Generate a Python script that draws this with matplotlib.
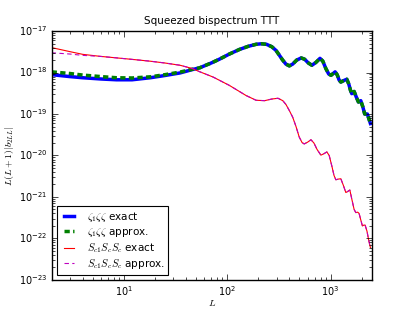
import matplotlib
matplotlib.use('Agg')
import matplotlib.pyplot as plt
import numpy as np

# zeta_1 zeta zeta, exact
L_zeta = [2.0, 3.0, 4.0, 6.0, 8.5, 12, 18, 25, 35, 46, 54, 70, 84, 105, 131, 160,
          190, 215, 240, 270, 297, 320, 344, 370, 399, 430, 470, 520, 560, 610,
          660, 720, 790, 840, 900, 960, 1010, 1060, 1107, 1160, 1210, 1256, 1340,
          1435, 1500, 1560, 1604, 1690, 1770, 1860, 1960, 2050, 2140, 2270, 2430]
b_zeta_exact = [8.9e-19, 8.0e-19, 7.5e-19, 7.0e-19, 6.7e-19, 6.7e-19, 7.5e-19,
                8.5e-19, 9.8e-19, 1.18e-18, 1.3e-18, 1.7e-18, 2.1e-18, 2.8e-18,
                3.6e-18, 4.3e-18, 4.8e-18, 4.95e-18, 4.8e-18, 4.2e-18, 3.4e-18,
                2.6e-18, 2.0e-18, 1.6e-18, 1.45e-18, 1.6e-18, 2.0e-18, 2.25e-18,
                2.1e-18, 1.7e-18, 1.5e-18, 1.75e-18, 2.2e-18, 1.9e-18, 1.25e-18,
                9.2e-19, 8.6e-19, 9.5e-19, 1.04e-18, 8.8e-19, 6.6e-19, 5.9e-19,
                6.4e-19, 6.9e-19, 5.3e-19, 3.7e-19, 3.1e-19, 3.5e-19, 2.6e-19,
                1.95e-19, 2.1e-19, 1.5e-19, 1.0e-19, 1.0e-19, 5.9e-20]
# approx differs only at low L
b_zeta_approx_low = [1.04e-18, 9.5e-19, 8.7e-19, 8.0e-19, 7.5e-19, 7.4e-19,
                     7.9e-19, 8.9e-19, 1.03e-18, 1.2e-18]
b_zeta_approx = b_zeta_approx_low + b_zeta_exact[len(b_zeta_approx_low):]

# S_c1 S_c S_c, exact
L_sc = [2.0, 3.0, 4.0, 6.0, 8.5, 12, 18, 25, 35, 46, 54, 73, 105, 152, 190, 230,
        270, 310, 345, 370, 400, 430, 463, 497, 530, 556, 600, 646, 690, 740,
        806, 860, 920, 970, 1030, 1080, 1125, 1190, 1257, 1330, 1405, 1460,
        1536, 1620, 1690, 1755, 1830, 1888, 1960, 2033, 2100, 2158, 2250,
        2340, 2430]
b_sc_exact = [4.0e-18, 3.2e-18, 2.75e-18, 2.45e-18, 2.26e-18, 2.08e-18, 1.88e-18,
              1.7e-18, 1.5e-18, 1.25e-18, 1.05e-18, 7.8e-19, 4.9e-19, 2.8e-19,
              2.15e-19, 2.1e-19, 2.3e-19, 2.4e-19, 2.1e-19, 1.7e-19, 1.2e-19,
              8.4e-20, 5.0e-20, 2.8e-20, 2.05e-20, 1.9e-20, 2.1e-20, 2.4e-20,
              2.0e-20, 1.4e-20, 1.02e-20, 1.1e-20, 1.22e-20, 1.0e-20, 5.5e-21,
              3.3e-21, 2.6e-21, 2.7e-21, 2.75e-21, 1.9e-21, 1.28e-21, 1.35e-21,
              1.47e-21, 8.0e-22, 5.0e-22, 4.2e-22, 4.3e-22, 4.0e-22, 2.8e-22,
              2.0e-22, 2.1e-22, 2.1e-22, 1.5e-22, 9e-23, 6e-23]
b_sc_approx_low = [3.0e-18, 2.8e-18, 2.6e-18]
b_sc_approx = b_sc_approx_low + b_sc_exact[len(b_sc_approx_low):]

plt.style.use('classic')
plt.rcParams['font.size'] = 7
plt.rcParams['mathtext.fontset'] = 'cm'

fig = plt.figure(figsize=(4.13, 3.11), dpi=100, facecolor='white')
ax = fig.add_subplot(111)

ax.loglog(L_zeta, b_zeta_exact, 'b-', lw=2.5, label=r'$\zeta_1\zeta\zeta$ exact')
ax.loglog(L_zeta, b_zeta_approx, 'g--', lw=2.5, dashes=(3.8, 2.4),
          label=r'$\zeta_1\zeta\zeta$ approx.')
ax.loglog(L_sc, b_sc_exact, 'r-', lw=0.8, label=r'$S_{c1}S_cS_c$ exact')
ax.loglog(L_sc, b_sc_approx, 'm--', lw=0.8, dashes=(3.2, 2.4),
          label=r'$S_{c1}S_cS_c$ approx.')

ax.set_xlim(2, 2500)
ax.set_ylim(1e-23, 1e-17)
ax.set_title('Squeezed bispectrum TTT', fontsize=7.5)
ax.set_xlabel(r'$L$', fontsize=7, labelpad=0)
ax.set_ylabel(r'$L(L+1)|b_{2LL}|$', fontsize=7, labelpad=2)
ax.tick_params(labelsize=7, pad=3)

leg = ax.legend(loc='lower left', prop={'size': 7.5}, handlelength=1.6,
                labelspacing=0.2, borderpad=0.35, handletextpad=0.9)
leg.get_frame().set_linewidth(0.8)

fig.savefig('out.png', dpi=100, facecolor='white')
